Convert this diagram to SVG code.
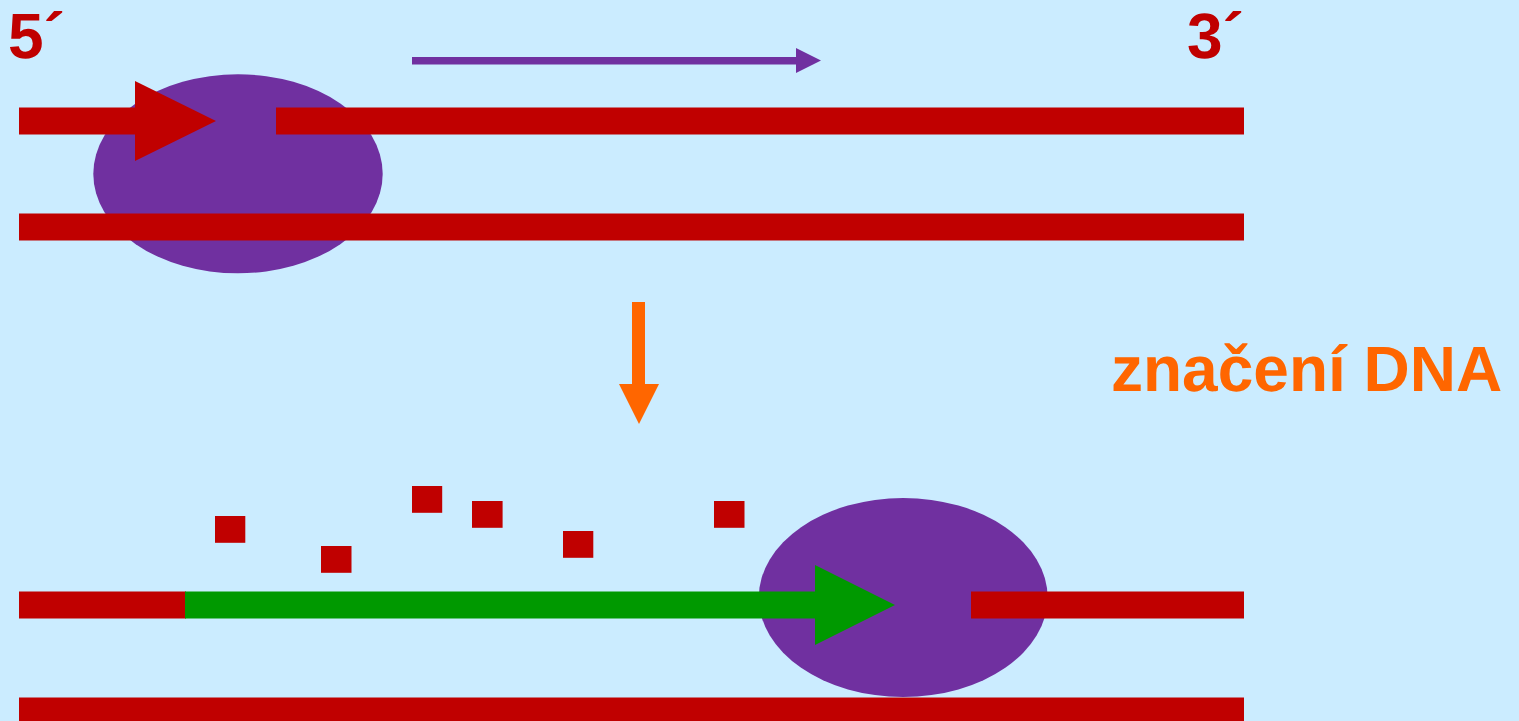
<svg xmlns="http://www.w3.org/2000/svg" width="1519" height="721" viewBox="0 0 1519 721">
<style>
.strand{fill:#c00000}
.enzyme{fill:#7030a0}
.label{font-family:"Liberation Sans",Arial,sans-serif;font-weight:700;text-rendering:geometricPrecision}
.end{font-size:64px;fill:#c00000}
.base{fill:#c00000}
</style>
<rect width="1519" height="721" fill="#cbecff"/>
<g id="enzyme-top"><ellipse class="enzyme" cx="238" cy="173.800" rx="144.700" ry="99.500"/></g>
<g id="enzyme-bottom"><ellipse class="enzyme" cx="903.200" cy="597.500" rx="144.400" ry="99.500"/></g>
<g id="strands-top">
<rect class="strand" x="19" y="107.500" width="117" height="27"/>
<rect class="strand" x="276" y="107.500" width="968" height="27"/>
<rect class="strand" x="19" y="213.500" width="1225" height="27"/>
<polygon class="strand" points="135,81 216,121 135,161"/>
</g>
<g id="strands-bottom">
<rect class="strand" x="19" y="591.500" width="167" height="27"/>
<rect x="185" y="591.500" width="632" height="27" fill="#009900"/>
<polygon points="815,565 895,605 815,645" fill="#009900"/>
<rect class="strand" x="971" y="591.500" width="273" height="27"/>
<rect class="strand" x="19" y="697.500" width="1225" height="24"/>
</g>
<g id="connectors">
<polygon points="412,57 796,57 796,48 821,60.500 796,73 796,64.500 412,64.500" fill="#7030a0"/>
<polygon points="632,302 645,302 645,384 659,384 639,424 619,384 632,384" fill="#ff6600"/>
</g>
<g id="free-bases">
<rect class="base" x="215" y="516" width="30.300" height="26.800"/>
<rect class="base" x="321" y="546" width="30.500" height="26.800"/>
<rect class="base" x="412" y="486" width="30.200" height="26.800"/>
<rect class="base" x="472" y="501" width="30.600" height="26.800"/>
<rect class="base" x="563" y="531" width="30.300" height="26.800"/>
<rect class="base" x="714" y="501" width="30.500" height="26.800"/>
</g>
<g id="labels">
<text class="label end" x="8" y="58">5´</text>
<text class="label end" x="1187" y="58">3´</text>
<text class="label" x="1111" y="390.500" font-size="64" fill="#ff6600">značení DNA</text>
</g>
</svg>
